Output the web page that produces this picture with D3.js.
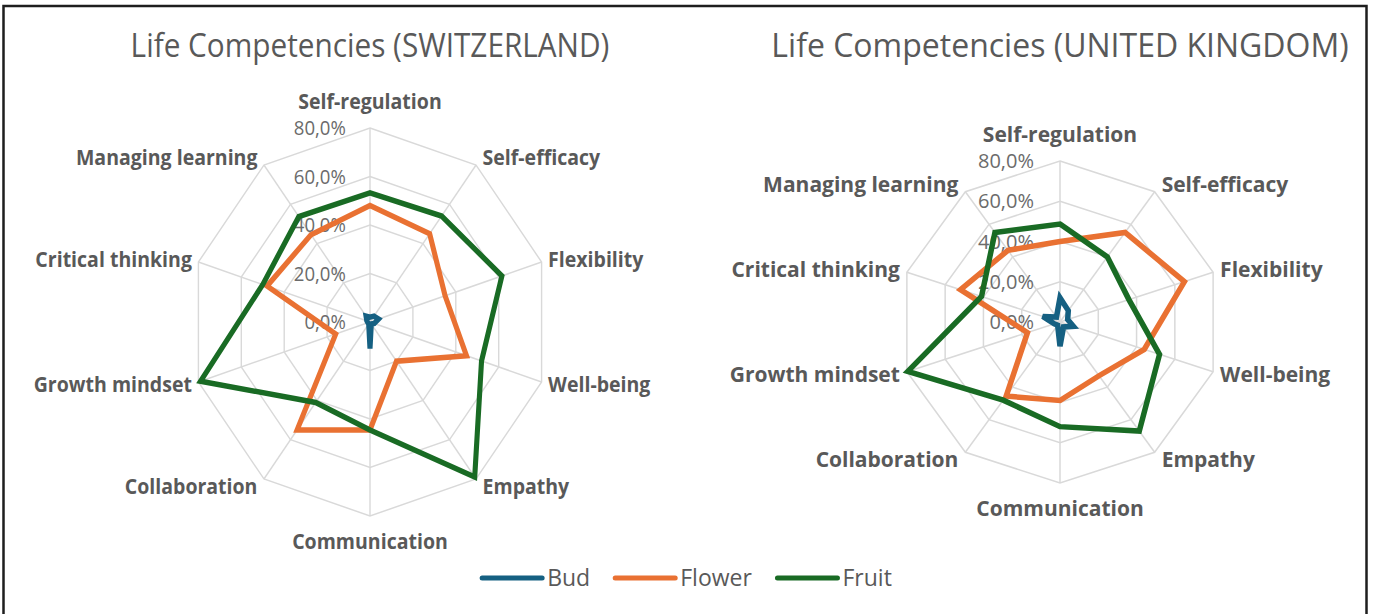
<!DOCTYPE html>
<html>
<head>
<meta charset="utf-8">
<script src="https://cdn.jsdelivr.net/npm/d3@7"></script>
<style>
  body { margin: 0; background: #fff; }
  text { font-family: "Open Sans", sans-serif; }
</style>
</head>
<body>
<svg id="chart" width="1373" height="614"></svg>
<script>
// categories clockwise from the top
const categories = ["Self-regulation", "Self-efficacy", "Flexibility", "Well-being", "Empathy",
  "Communication", "Collaboration", "Growth mindset", "Critical thinking", "Managing learning"];
const seriesNames = ["Bud", "Flower", "Fruit"];
const tickValues = [0, 0.2, 0.4, 0.6, 0.8];

// Switzerland
const chBud    = [0.02, 0.03, 0.04, 0.02, 0.01, 0.11, 0.01, 0.01, 0.015, 0.03];
const chFlower = [0.48, 0.45, 0.35, 0.45, 0.20, 0.445, 0.55, 0.16, 0.48, 0.445];
const chFruit  = [0.532, 0.54, 0.615, 0.52, 0.79, 0.445, 0.41, 0.79, 0.50, 0.537];

// United Kingdom
const ukBud    = [0.12, 0.07, 0.04, 0.07, 0.03, 0.12, 0.02, 0.03, 0.09, 0.03];
const ukFlower = [0.40, 0.55, 0.65, 0.44, 0.33, 0.39, 0.455, 0.17, 0.52, 0.44];
const ukFruit  = [0.487, 0.40, 0.36, 0.52, 0.67, 0.52, 0.48, 0.795, 0.41, 0.55];

const colors = ["#156082", "#e97132", "#196b24"];

const panels = [
  { title: "Life Competencies (SWITZERLAND)", cx: 370, cy: 322, radius: 194, sx: 0.93,
    data: [chBud, chFlower, chFruit] },
  { title: "Life Competencies (UNITED KINGDOM)", cx: 1060, cy: 322, radius: 161, sx: 1,
    data: [ukBud, ukFlower, ukFruit] }
];

const pct = d3.formatLocale({ decimal: ",", thousands: ".", grouping: [3], currency: ["", ""] }).format(".1%");

const svg = d3.select("#chart");

// outer frame
svg.append("rect")
  .attr("x", 3.5).attr("y", 6)
  .attr("width", 1363).attr("height", 640)
  .attr("fill", "none")
  .attr("stroke", "#1e1e1e")
  .attr("stroke-width", 2.5);

const angle = d3.scaleLinear().domain([0, categories.length]).range([0, 2 * Math.PI]);

panels.forEach(p => {
  const g = svg.append("g")
    .attr("transform", `translate(${p.cx},${p.cy}) scale(${p.sx},1)`);

  const r = d3.scaleLinear().domain([0, 0.8]).range([0, p.radius]);

  const radial = d3.lineRadial()
    .angle((d, i) => angle(i))
    .radius(d => r(d))
    .curve(d3.curveLinearClosed);

  // grid rings
  g.selectAll(".ring")
    .data(tickValues.filter(t => t > 0))
    .enter().append("path")
      .attr("d", t => radial(categories.map(() => t)))
      .attr("fill", "none")
      .attr("stroke", "#d9d9d9")
      .attr("stroke-width", 1.5);

  // spokes
  g.selectAll(".spoke")
    .data(categories)
    .enter().append("line")
      .attr("x1", 0).attr("y1", 0)
      .attr("x2", (d, i) => r(0.8) * Math.sin(angle(i)))
      .attr("y2", (d, i) => -r(0.8) * Math.cos(angle(i)))
      .attr("stroke", "#d9d9d9")
      .attr("stroke-width", 1.5);

  // tick labels
  g.selectAll(".tick")
    .data(tickValues)
    .enter().append("text")
      .attr("x", -26)
      .attr("y", t => -r(t))
      .attr("dy", "0.35em")
      .attr("text-anchor", "end")
      .attr("fill", "#6b6b6b")
      .style("font-size", "20px")
      .text(t => pct(t));

  // category labels
  g.selectAll(".cat")
    .data(categories)
    .enter().append("text")
      .attr("x", (d, i) => {
        const s = Math.sin(angle(i));
        return r(0.8) * s + (Math.abs(s) < 0.01 ? 0 : 7 * Math.sign(s));
      })
      .attr("y", (d, i) => {
        const c = Math.cos(angle(i));
        const off = Math.abs(c) > 0.99 ? 26 : 9;
        return -r(0.8) * c - off * c;
      })
      .attr("dy", "0.35em")
      .attr("text-anchor", (d, i) => {
        const s = Math.sin(angle(i));
        return Math.abs(s) < 0.01 ? "middle" : (s > 0 ? "start" : "end");
      })
      .attr("fill", "#595959")
      .style("font-size", "21px")
      .style("font-weight", "bold")
      .text(d => d);

  // series
  g.selectAll(".series")
    .data(p.data)
    .enter().append("path")
      .attr("d", d => radial(d))
      .attr("fill", "none")
      .attr("stroke", (d, i) => colors[i])
      .attr("stroke-width", 5.5)
      .attr("stroke-linejoin", "miter")
      .attr("stroke-miterlimit", 3);

  // title
  g.append("text")
    .attr("x", 0)
    .attr("y", 46 - p.cy)
    .attr("dy", "0.35em")
    .attr("text-anchor", "middle")
    .attr("fill", "#595959")
    .style("font-size", "32px")
    .text(p.title);
});

// legend
const legend = svg.append("g").attr("transform", "translate(0,578)");
let lx = 0;
const items = legend.selectAll("g")
  .data(seriesNames)
  .enter().append("g");
items.append("line")
  .attr("x1", 0).attr("x2", 60)
  .attr("stroke", (d, i) => colors[i])
  .attr("stroke-width", 5)
  .attr("stroke-linecap", "round");
items.append("text")
  .attr("x", 65)
  .attr("dy", "0.35em")
  .attr("fill", "#595959")
  .style("font-size", "23px")
  .text(d => d);
items.each(function () {
  const w = this.getBBox().width;
  d3.select(this).attr("transform", `translate(${lx},0)`);
  lx += w + 25;
});
legend.attr("transform", `translate(${687 - (lx - 25) / 2},578)`);
</script>
</body>
</html>
